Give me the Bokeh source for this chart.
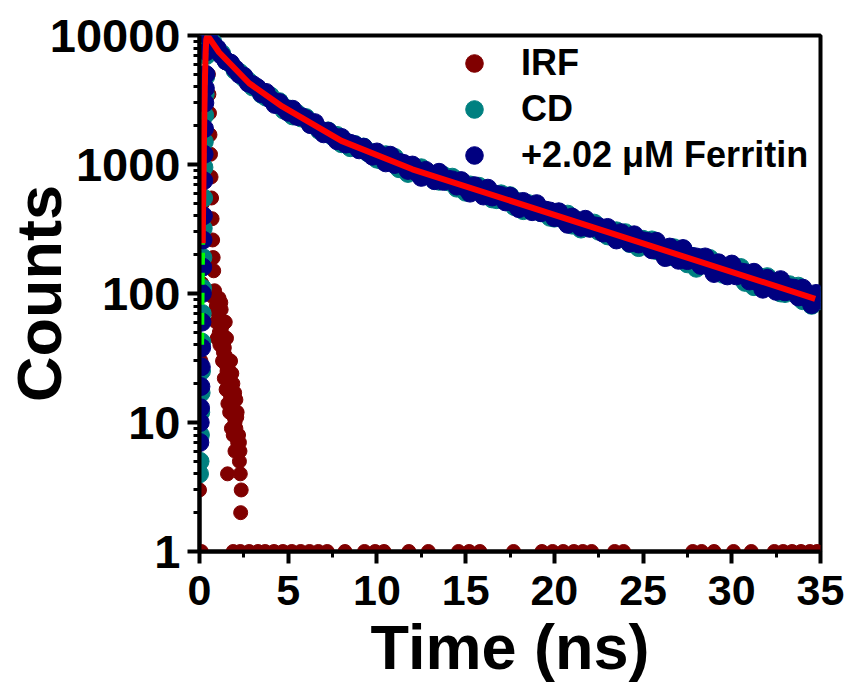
from bokeh.plotting import figure
from bokeh.models import FixedTicker, Legend, LegendItem, BasicTickFormatter
from bokeh.embed import file_html
from bokeh.resources import INLINE

FONT = "Liberation Sans"

# ---------------- axis ticks / labels ----------------
x_ticks = [0, 5, 10, 15, 20, 25, 30, 35]
x_minor_ticks = [2.5, 7.5, 12.5, 17.5, 22.5, 27.5, 32.5]
y_ticks = [1, 10, 100, 1000, 10000]
y_tick_labels = ["1", "10", "100", "1000", "10000"]
y_minor_ticks = [2, 3, 4, 5, 6, 7, 8, 9,
                 20, 30, 40, 50, 60, 70, 80, 90,
                 200, 300, 400, 500, 600, 700, 800, 900,
                 2000, 3000, 4000, 5000, 6000, 7000, 8000, 9000]
x_label = "Time (ns)"
y_label = "Counts"
series_names = ["IRF", "CD", "+2.02 \u03bcM Ferritin"]

# ---------------- IRF (instrument response) ----------------
irf_t = [0.00, 0.04, 0.08, 0.12, 0.16, 0.20, 0.25, 0.30, 0.35, 0.40,
         0.45, 0.50, 0.53, 0.56, 0.59, 0.62, 0.65, 0.68, 0.71, 0.74,
         0.77, 0.80, 0.85, 0.90, 0.95, 1.00, 1.05, 1.10, 1.15, 1.20,
         1.25, 1.30, 1.35, 1.40, 1.45, 1.50, 1.55, 1.60, 1.65, 1.70,
         1.75, 1.80, 1.85, 1.90, 1.95, 2.00, 2.05, 2.10, 2.15, 2.20,
         2.25, 2.30, 2.35, 1.22, 1.38, 1.52, 1.68, 1.82, 1.98, 2.12,
         2.28, 1.58, 2.32, 0.62, 0.72, 0.95, 1.12,
         1.00, 1.30, 1.50, 1.70, 1.90, 1.15, 1.40, 1.60, 2.00, 1.80,
         2.20, 1.45, 1.75, 2.05, 2.25, 1.62, 1.88, 2.10, 1.35, 1.95,
         0.10, 1.90, 2.30, 2.80, 3.30, 3.70, 4.20, 4.70, 5.20, 5.70,
         6.20, 6.70, 7.20, 8.20, 9.30, 9.90, 10.40, 11.80, 12.90, 14.60,
         15.20, 15.80, 17.70, 19.30, 19.90, 20.50, 21.10, 21.60, 22.10, 23.40,
         23.90, 27.80, 28.30, 29.00, 30.10, 31.10, 32.40, 32.90, 33.40, 33.90,
         34.40, 34.80]
irf_v = [3, 8, 30, 120, 500, 1800, 5000, 8500, 10000, 9500,
         7000, 5000, 3500, 2500, 1700, 1200, 800, 550, 380, 260,
         190, 150, 105, 95, 80, 88, 70, 92, 62, 85,
         55, 48, 42, 38, 33, 28, 25, 22, 20, 18,
         16, 15, 13, 12, 11, 10, 9, 8, 7, 6,
         5, 4, 3, 75, 60, 45, 30, 24, 17, 12,
         6, 4, 2, 100, 95, 60, 50,
         45, 30, 18, 12, 8, 40, 22, 14, 6, 9,
         8, 60, 30, 15, 7, 26, 20, 11, 35, 16,
         1, 1, 1, 1, 1, 1, 1, 1, 1, 1,
         1, 1, 1, 1, 1, 1, 1, 1, 1, 1,
         1, 1, 1, 1, 1, 1, 1, 1, 1, 1,
         1, 1, 1, 1, 1, 1, 1, 1, 1, 1,
         1, 1]

# ---------------- decay time channels ----------------
decay_t = [0.5, 0.75, 1.0, 1.25, 1.5, 1.75, 2.0, 2.25, 2.5, 2.75,
           3.0, 3.25, 3.5, 3.75, 4.0, 4.25, 4.5, 4.75, 5.0, 5.25,
           5.5, 5.75, 6.0, 6.25, 6.5, 6.75, 7.0, 7.25, 7.5, 7.75,
           8.0, 8.25, 8.5, 8.75, 9.0, 9.25, 9.5, 9.75, 10.0, 10.25,
           10.5, 10.75, 11.0, 11.25, 11.5, 11.75, 12.0, 12.25, 12.5, 12.75,
           13.0, 13.25, 13.5, 13.75, 14.0, 14.25, 14.5, 14.75, 15.0, 15.25,
           15.5, 15.75, 16.0, 16.25, 16.5, 16.75, 17.0, 17.25, 17.5, 17.75,
           18.0, 18.25, 18.5, 18.75, 19.0, 19.25, 19.5, 19.75, 20.0, 20.25,
           20.5, 20.75, 21.0, 21.25, 21.5, 21.75, 22.0, 22.25, 22.5, 22.75,
           23.0, 23.25, 23.5, 23.75, 24.0, 24.25, 24.5, 24.75, 25.0, 25.25,
           25.5, 25.75, 26.0, 26.25, 26.5, 26.75, 27.0, 27.25, 27.5, 27.75,
           28.0, 28.25, 28.5, 28.75, 29.0, 29.25, 29.5, 29.75, 30.0, 30.25,
           30.5, 30.75, 31.0, 31.25, 31.5, 31.75, 32.0, 32.25, 32.5, 32.75,
           33.0, 33.25, 33.5, 33.75, 34.0, 34.25, 34.5, 34.75, 35.0]

# ---------------- CD ----------------
cd_rise_t = [0.00, 0.03, 0.05, 0.07, 0.09, 0.11, 0.13, 0.15, 0.17, 0.19,
             0.21, 0.23, 0.25, 0.27, 0.29, 0.32, 0.35, 0.39, 0.44]
cd_rise_v = [4, 5, 8, 12, 17, 25, 42, 70, 110, 190,
             320, 550, 950, 1500, 2400, 3500, 4800, 7000, 9700]
cd_decay_v = [9600, 8890, 7720, 7250, 6360, 6050, 5370, 5180, 4690, 4440,
              3990, 3900, 3500, 3330, 3400, 3050, 3070, 2640, 2700, 2380,
              2490, 2290, 2310, 2050, 2030, 1840, 1770, 1820, 1650, 1680,
              1450, 1500, 1350, 1430, 1335, 1365, 1230, 1235, 1100, 1080,
              1190, 1055, 1135, 928, 1008, 853, 964, 886, 943, 817,
              847, 752, 742, 823, 735, 797, 656, 716, 610, 694,
              638, 678, 588, 609, 541, 534, 592, 529, 573, 472,
              515, 439, 499, 458, 488, 423, 439, 390, 384, 426,
              380, 412, 339, 371, 316, 359, 330, 351, 304, 315,
              280, 276, 306, 273, 296, 244, 267, 227, 263, 237,
              260, 215, 228, 196, 193, 226, 195, 221, 170, 194,
              157, 189, 171, 187, 155, 164, 141, 139, 163, 141,
              159, 122, 140, 113, 136, 122, 135, 111, 118, 101,
              100, 117, 101, 114, 88, 100, 81, 98, 88]

# ---------------- +2.02 uM Ferritin ----------------
fe_rise_t = [0.02, 0.04, 0.06, 0.08, 0.10, 0.12, 0.14, 0.16, 0.18, 0.20,
             0.22, 0.24, 0.26, 0.28, 0.30, 0.33, 0.36, 0.40, 0.45]
fe_rise_v = [7, 10, 13, 19, 27, 38, 60, 100, 160, 260,
             400, 750, 1200, 1900, 3000, 3900, 5000, 7500, 10000]
fe_decay_v = [9890, 8580, 7950, 7000, 6340, 6110, 5530, 5000, 4840, 4280,
              4160, 3950, 3540, 3620, 3210, 2920, 3020, 2770, 2540, 2680,
              2360, 2350, 2260, 2040, 2110, 1880, 1730, 1810, 1670, 1530,
              1620, 1440, 1460, 1420, 1300, 1360, 1240, 1160, 1250, 1150,
              1030, 1180, 1000, 1040, 1020, 900, 990, 870, 795, 900,
              830, 750, 870, 740, 770, 760, 680, 750, 660, 600,
              685, 628, 570, 655, 560, 585, 575, 513, 568, 498,
              455, 517, 475, 431, 497, 423, 443, 436, 388, 430,
              376, 344, 391, 360, 326, 376, 320, 335, 330, 294,
              325, 285, 260, 296, 272, 246, 285, 242, 256, 253,
              218, 254, 213, 190, 229, 206, 181, 223, 180, 194,
              192, 165, 192, 161, 143, 173, 156, 137, 169, 137,
              147, 145, 125, 146, 122, 108, 131, 118, 104, 128,
              103, 111, 110, 94, 110, 92, 82, 100, 89]

# ---------------- fitted curves ----------------
fit_green_t = [0.12, 0.15, 0.18, 0.22, 0.26, 0.30, 0.36, 0.45]
fit_green_v = [40, 120, 260, 700, 1900, 4200, 8000, 10000]
fit_red_t = [0.18, 0.22, 0.26, 0.30, 0.34, 0.38, 0.45, 1.1, 2.8, 4.66, 8.0, 12.0, 34.7]
fit_red_v = [245, 700, 1900, 4200, 7000, 9300, 10000, 7413, 4266, 2818, 1524, 918, 91]

COL_IRF = "#800000"
COL_CD = "#008080"
COL_FE = "#000080"

cd_t = cd_rise_t + decay_t
cd_v = cd_rise_v + cd_decay_v
fe_t = fe_rise_t + decay_t
fe_v = fe_rise_v + fe_decay_v

p = figure(width=852, height=686, x_range=(0, 35), y_range=(1, 10000),
           y_axis_type="log", output_backend="svg", toolbar_location=None,
           min_border_left=197, min_border_right=32, min_border_top=35,
           min_border_bottom=135, background_fill_color="white",
           border_fill_color="white")

p.xgrid.visible = False
p.ygrid.visible = False
p.outline_line_color = "black"
p.outline_line_width = 4
p.outline_line_alpha = 1

p.xaxis.ticker = FixedTicker(ticks=x_ticks, minor_ticks=x_minor_ticks)
p.yaxis.ticker = FixedTicker(ticks=y_ticks, minor_ticks=y_minor_ticks)
p.yaxis.formatter = BasicTickFormatter(use_scientific=False)
p.yaxis.major_label_overrides = {t: l for t, l in zip(y_ticks, y_tick_labels)}

for ax in (p.xaxis[0], p.yaxis[0]):
    ax.axis_line_width = 4
    ax.axis_line_color = "black"
    ax.major_tick_line_width = 4
    ax.minor_tick_line_width = 3
    ax.major_tick_line_color = "black"
    ax.minor_tick_line_color = "black"
    ax.major_tick_in = 0
    ax.major_tick_out = 12
    ax.minor_tick_in = 0
    ax.minor_tick_out = 6
    ax.major_label_text_font = FONT
    ax.major_label_text_font_style = "bold"
    ax.major_label_text_color = "black"
    ax.axis_label_text_font = FONT
    ax.axis_label_text_font_style = "bold"
    ax.axis_label_text_font_size = "63px"
    ax.axis_label_text_color = "black"

p.xaxis.major_label_text_font_size = "43px"
p.yaxis.major_label_text_font_size = "47px"
p.xaxis.major_label_standoff = 12
p.yaxis.major_label_standoff = 7
p.xaxis.axis_label = x_label
p.yaxis.axis_label = y_label
p.xaxis.axis_label_standoff = 4
p.yaxis.axis_label_standoff = -27

r_irf = p.scatter(irf_t, irf_v, size=14, marker="circle", color=COL_IRF)
r_cd = p.scatter(cd_t, cd_v, size=18, marker="circle", color=COL_CD)
r_fe = p.scatter(fe_t, fe_v, size=18, marker="circle", color=COL_FE)
p.line(fit_green_t, fit_green_v, line_color="#00FF00", line_width=5, line_dash="12 8")
p.line(fit_red_t, fit_red_v, line_color="#FF0000", line_width=6)

legend = Legend(items=[LegendItem(label=series_names[0], renderers=[r_irf]),
                       LegendItem(label=series_names[1], renderers=[r_cd]),
                       LegendItem(label=series_names[2], renderers=[r_fe])],
                location=(253, 373), orientation="vertical",
                glyph_width=44, glyph_height=46, spacing=0, padding=0, margin=0,
                label_standoff=25, label_text_font=FONT, label_text_font_style="bold",
                label_text_font_size="36px", label_text_color="black",
                border_line_color=None, background_fill_alpha=0)
p.add_layout(legend)

open("out.html", "w").write(file_html(p, INLINE))
